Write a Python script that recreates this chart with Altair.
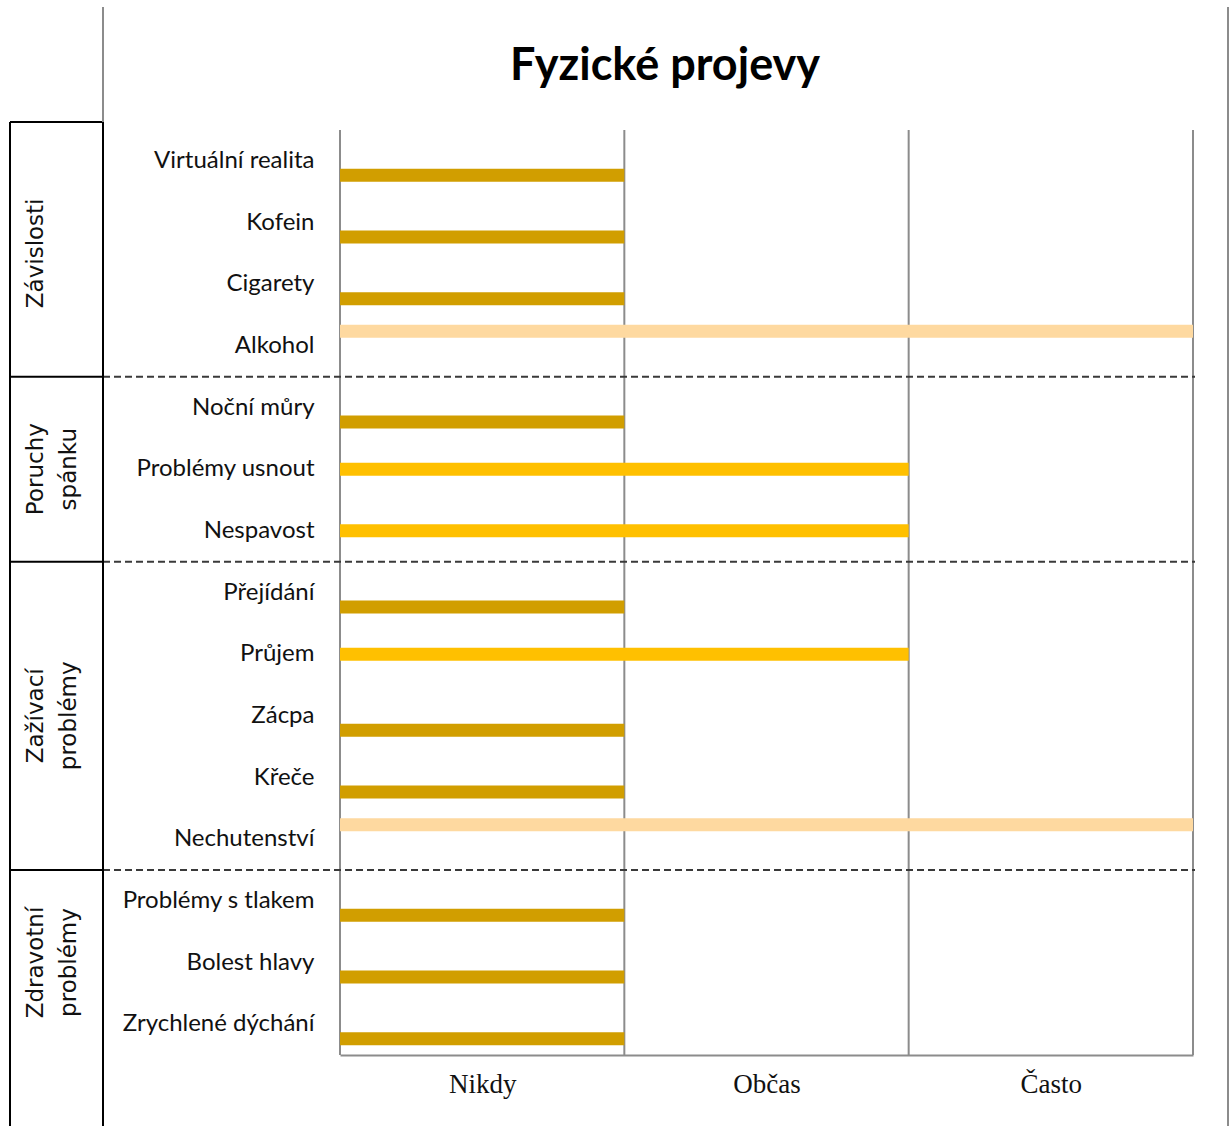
import altair as alt
import pandas as pd

# ---- data -------------------------------------------------------------
items = [
    "Virtuální realita", "Kofein", "Cigarety", "Alkohol",
    "Noční můry", "Problémy usnout", "Nespavost",
    "Přejídání", "Průjem", "Zácpa", "Křeče", "Nechutenství",
    "Problémy s tlakem", "Bolest hlavy", "Zrychlené dýchání",
]
answers = [
    "Nikdy", "Nikdy", "Nikdy", "Často",
    "Nikdy", "Občas", "Občas",
    "Nikdy", "Občas", "Nikdy", "Nikdy", "Často",
    "Nikdy", "Nikdy", "Nikdy",
]
frequency_levels = ["Nikdy", "Občas", "Často"]
level_colors = ["#D19E00", "#FFC000", "#FED9A0"]
groups = ["Závislosti", "Poruchy\nspánku", "Zažívací\nproblémy", "Zdravotní\nproblémy"]
group_sizes = [4, 3, 5, 3]
chart_title = "Fyzické projevy"

# ---- tables built from the lists --------------------------------------
bars = pd.DataFrame({
    "item": items,
    "answer": answers,
    "score": [frequency_levels.index(a) + 1 for a in answers],
})

starts, acc = [], 0
for n in group_sizes:
    starts.append(acc)
    acc += n
group_df = pd.DataFrame({
    "name": groups,
    "start": starts,
    "end": [s + n for s, n in zip(starts, group_sizes)],
})
group_df["mid"] = (group_df["start"] + group_df["end"]) / 2
separators = pd.DataFrame({"pos": group_df["end"][:-1].tolist()})
grid_df = pd.DataFrame({"v": list(range(len(frequency_levels) + 1))})
one_row = alt.InlineData(values=[{"k": 1}])

# ---- layout / style ---------------------------------------------------
W, H = 853, 925
PAD = {"left": 340, "top": 130, "right": 39, "bottom": 71}
GRID = "#8c8c8c"
LINE_W = 2

label_expr = "''"
for i in reversed(range(len(frequency_levels))):
    label_expr = f"datum.value < {i + 1} ? '{frequency_levels[i]}' : ({label_expr})"

x_scale = alt.Scale(domain=[0, len(frequency_levels)], nice=False, zero=True)
x_axis = alt.Axis(
    title=None, values=[i + 0.5 for i in range(len(frequency_levels))],
    labelExpr=label_expr, grid=False, ticks=False,
    domain=True, domainColor=GRID, domainWidth=LINE_W,
    labelFont="Liberation Serif", labelFontSize=27, labelColor="#111111",
    labelPadding=16, labelAngle=0, labelFlush=False,
)
y_axis = alt.Axis(
    title=None, ticks=False, domain=False, grid=False,
    labelFont="Lato", labelFontSize=24, labelColor="#111111",
    labelPadding=26, labelLimit=400,
)

# vertical grid lines at each level boundary
grid = alt.Chart(grid_df).mark_rule(color=GRID, strokeWidth=LINE_W).encode(
    x=alt.X("v:Q", scale=x_scale, axis=x_axis)
)

# one bar per symptom, placed in the slot of its answer inside the row
bar_layer = alt.Chart(bars).mark_bar().encode(
    x=alt.X("score:Q", scale=x_scale, axis=x_axis),
    y=alt.Y("item:N", sort=items,
            scale=alt.Scale(paddingInner=0, paddingOuter=0), axis=y_axis),
    yOffset=alt.YOffset("answer:N", scale=alt.Scale(
        domain=list(reversed(frequency_levels)),
        paddingInner=0.1, paddingOuter=0.675)),
    color=alt.Color("answer:N", scale=alt.Scale(domain=frequency_levels,
                                                range=level_colors),
                    legend=None),
)

main = alt.layer(grid, bar_layer)

# group column: separators and rotated group names in row units
g_scale = alt.Scale(domain=[0, len(items)], reverse=True, nice=False, zero=False)

dashed = alt.Chart(separators).mark_rule(
    strokeDash=[7, 4], color="#3a3a3a", strokeWidth=LINE_W
).encode(
    y=alt.Y("pos:Q", scale=g_scale, axis=None),
    x=alt.value(-237), x2=alt.value(855),
)
solid = alt.Chart(separators).mark_rule(color="black", strokeWidth=LINE_W).encode(
    y=alt.Y("pos:Q", scale=g_scale, axis=None),
    x=alt.value(-330), x2=alt.value(-237),
)
group_labels = alt.Chart(group_df).mark_text(
    angle=270, align="center", baseline="top", lineBreak="\n",
    font="DejaVu Sans", fontSize=23, lineHeight=33, color="#111111",
).encode(
    y=alt.Y("mid:Q", scale=g_scale, axis=None),
    x=alt.value(-315),
    text="name:N",
)
group_layer = alt.layer(dashed, solid, group_labels)

# table frame around the group column and on the right side
def frame_rule(color, **enc):
    return alt.Chart(one_row).mark_rule(color=color, strokeWidth=LINE_W).encode(
        **{k: alt.value(v) for k, v in enc.items()})

frame = alt.layer(
    frame_rule("black", x=-330, x2=-237, y=-8),
    frame_rule("black", x=-330, y=-8, y2=996),
    frame_rule("black", x=-237, y=-8, y2=996),
    frame_rule(GRID, x=-237, y=-123, y2=-8),
    frame_rule(GRID, x=888, y=-123, y2=996),
)

title = alt.Chart(one_row).mark_text(
    text=chart_title, font="Lato", fontSize=45, fontWeight="bold",
    align="center", baseline="alphabetic", color="black",
).encode(x=alt.value(325), y=alt.value(-50))

chart = alt.layer(main, group_layer, frame, title).resolve_scale(
    y="independent"
).properties(
    width=W, height=H,
    autosize=alt.AutoSizeParams(type="none"),
    padding=PAD,
    background="white",
).configure_view(stroke=None)

chart.save("out.html", embed_options={"renderer": "svg", "actions": False})
